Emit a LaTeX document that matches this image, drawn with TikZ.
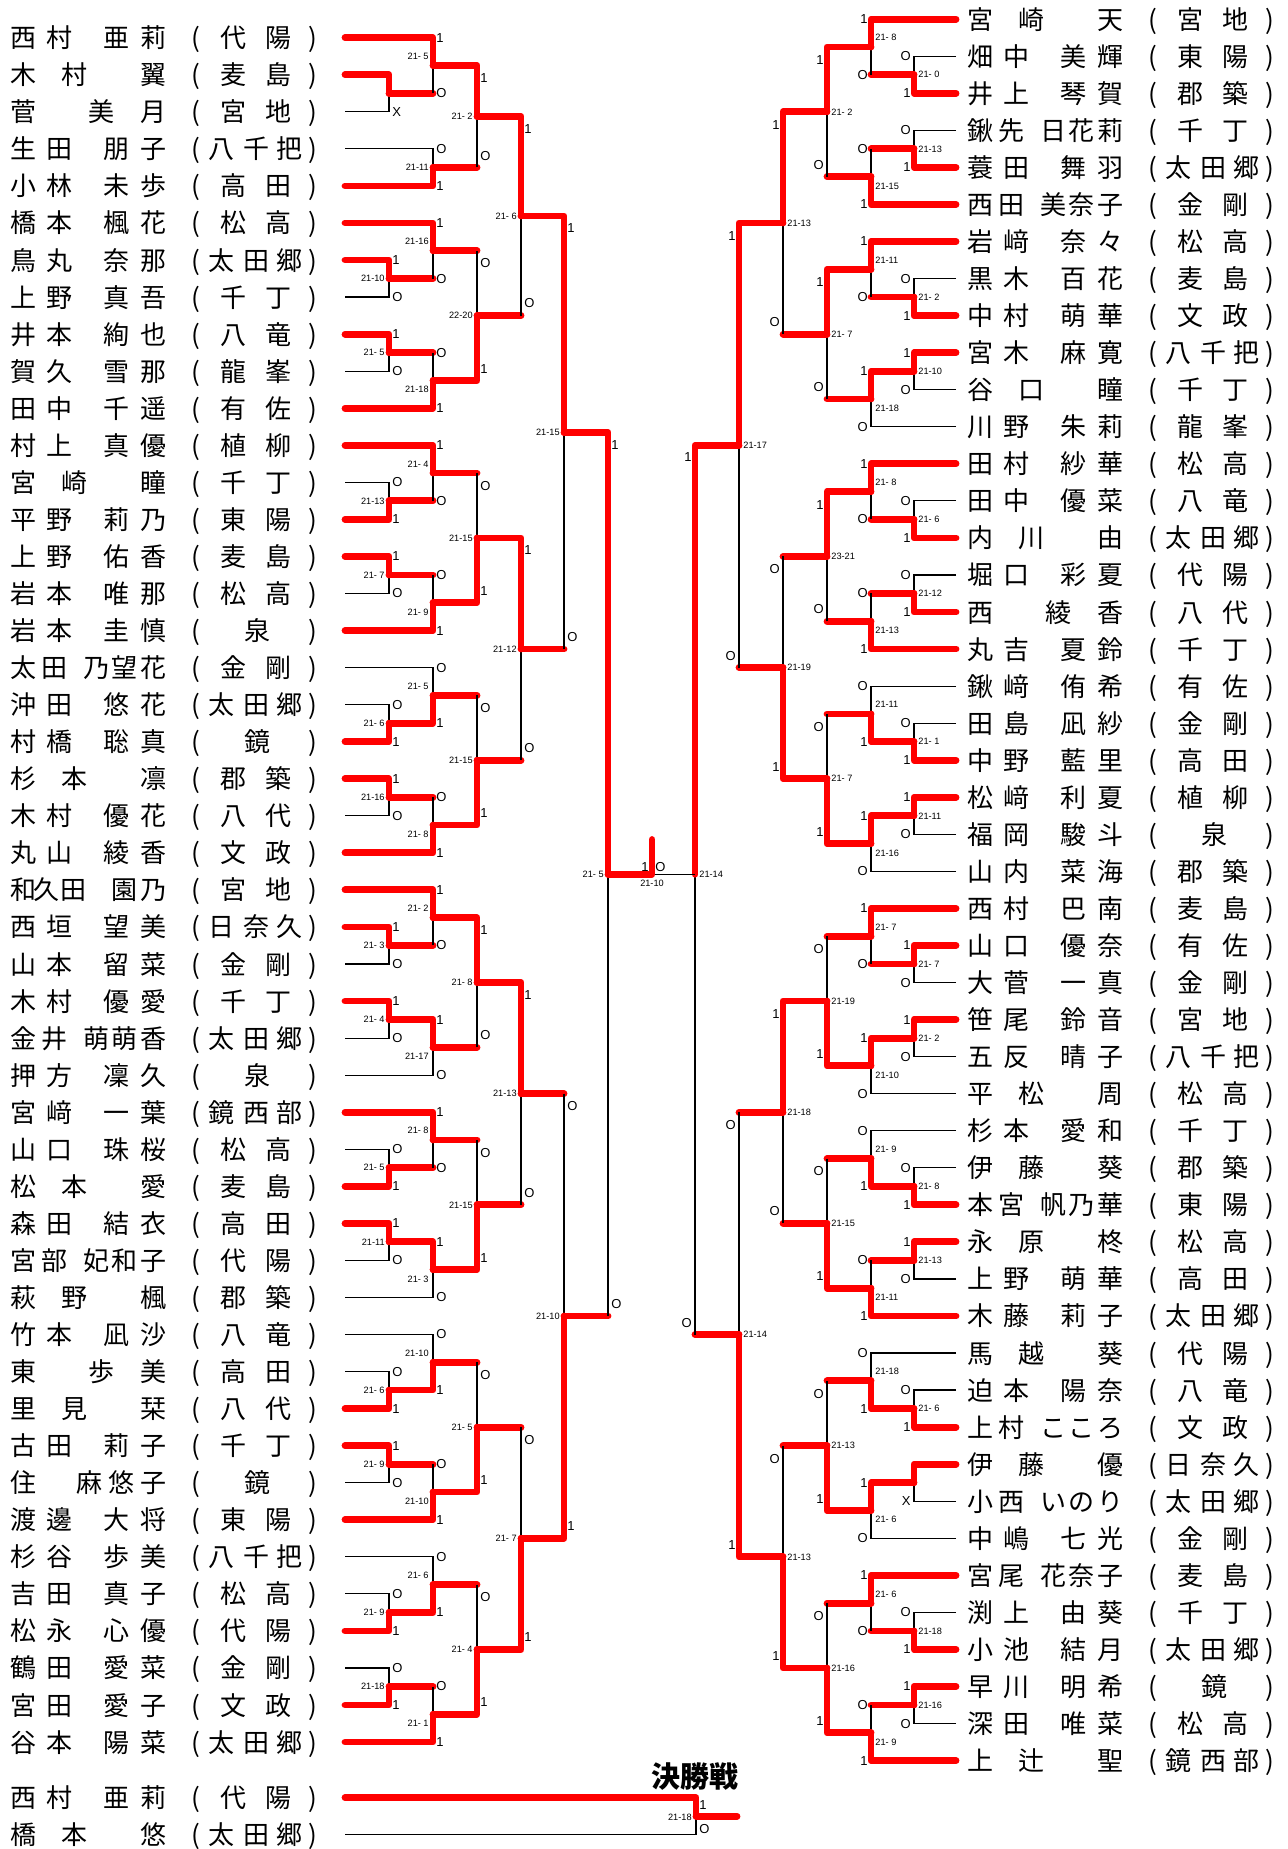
\documentclass[tikz,border=0pt]{standalone}
\usepackage{fontspec}
\setmainfont{Noto Sans CJK JP}
\newfontfamily\lat{Liberation Sans}
\newdimen\pxu \pxu=0.5pt
\newcommand{\xo}{0}
\newcommand{\chpos}[2]{\rlap{\hspace*{\xo\pxu}\hspace*{#1\pxu}#2}}
% name layouts: family + given
\newcommand{\nbb}[4]{\chpos{0}{#1}\chpos{36}{#2}\chpos{93}{#3}\chpos{130}{#4}}
\newcommand{\nba}[3]{\chpos{0}{#1}\chpos{51}{#2}\chpos{130}{#3}}
\newcommand{\nbc}[5]{\chpos{0}{#1}\chpos{31}{#2}\chpos{73}{#3}\chpos{101}{#4}\chpos{130}{#5}}
\newcommand{\nab}[3]{\chpos{0}{#1}\chpos{78}{#2}\chpos{130}{#3}}
\newcommand{\nac}[4]{\chpos{0}{#1}\chpos{66}{#2}\chpos{98}{#3}\chpos{130}{#4}}
\newcommand{\ncb}[5]{\chpos{0}{#1}\chpos{23}{#2}\chpos{50}{#3}\chpos{101}{#4}\chpos{130}{#5}}
% school in brackets
\newcommand{\sca}[1]{\chpos{181}{(}\chpos{234}{#1}\chpos{298}{)}}
\newcommand{\scb}[2]{\chpos{181}{(}\chpos{210}{#1}\chpos{255}{#2}\chpos{298}{)}}
\newcommand{\scc}[3]{\chpos{181}{(}\chpos{198}{#1}\chpos{233}{#2}\chpos{266}{#3}\chpos{298}{)}}
\usetikzlibrary{positioning}
\tikzset{
  pname/.style    = {inner sep=0pt, text height=11.5pt, text depth=1.5pt,
                     font=\fontsize{13pt}{15pt}\selectfont,
                     execute at end node={\hspace*{334\pxu}}},
  lname/.style    = {pname, anchor=east},
  rname/.style    = {pname, anchor=west, execute at begin node={\def\xo{11}}},
  winline/.style  = {draw=red, line width=3.4pt, line cap=round, line join=round},
  loseline/.style = {draw=black, line width=0.6pt},
  score/.style    = {inner sep=0pt, font=\lat\fontsize{4.6pt}{5pt}\selectfont},
  res/.style      = {inner sep=0pt, font=\lat\fontsize{6.5pt}{7pt}\selectfont}
}
% match: name, column, row, score, score row, top mark, its row, bottom mark, its row
\newcommand{\mL}[9]{%
  \coordinate (#1) at (#2,#3);
  \node[score, anchor=east] (#1s) at (#2-4,#5) {#4};
  \node[res, anchor=west] (#1t) at (#2+3,#7) {#6};
  \node[res, anchor=west] (#1b) at (#2+3,#9) {#8};}
\newcommand{\mR}[9]{%
  \coordinate (#1) at (#2,#3);
  \node[score, anchor=west] (#1s) at (#2+4,#5) {#4};
  \node[res, anchor=east] (#1t) at (#2-3,#7) {#6};
  \node[res, anchor=east] (#1b) at (#2-3,#9) {#8};}
\newcommand{\won}[2]{\draw[winline] (#1) -| (#2);}
\newcommand{\lost}[2]{\draw[loseline] (#1) -| (#2);}
\newcommand{\lostr}[2]{\draw[winline] (#1) -- (#1 -| #2); \draw[loseline] (#1 -| #2) -- (#2);}

\begin{document}
\begin{tikzpicture}[x=0.5pt, y=-18.525pt]
\path[use as bounding box, fill=white] (0,-1.0175) rectangle (1287,48.886);

% ---------------- left names ----------------
\node[lname] (lp0) at (345,0) {\nbb 西村亜莉\scb 代陽};
\node[lname] (lp1) at (345,1) {\nba 木村翼\scb 麦島};
\node[lname] (lp2) at (345,2) {\nab 菅美月\scb 宮地};
\node[lname] (lp3) at (345,3) {\nbb 生田朋子\scc 八千把};
\node[lname] (lp4) at (345,4) {\nbb 小林未歩\scb 高田};
\node[lname] (lp5) at (345,5) {\nbb 橋本楓花\scb 松高};
\node[lname] (lp6) at (345,6) {\nbb 鳥丸奈那\scc 太田郷};
\node[lname] (lp7) at (345,7) {\nbb 上野真吾\scb 千丁};
\node[lname] (lp8) at (345,8) {\nbb 井本絢也\scb 八竜};
\node[lname] (lp9) at (345,9) {\nbb 賀久雪那\scb 龍峯};
\node[lname] (lp10) at (345,10) {\nbb 田中千遥\scb 有佐};
\node[lname] (lp11) at (345,11) {\nbb 村上真優\scb 植柳};
\node[lname] (lp12) at (345,12) {\nba 宮崎瞳\scb 千丁};
\node[lname] (lp13) at (345,13) {\nbb 平野莉乃\scb 東陽};
\node[lname] (lp14) at (345,14) {\nbb 上野佑香\scb 麦島};
\node[lname] (lp15) at (345,15) {\nbb 岩本唯那\scb 松高};
\node[lname] (lp16) at (345,16) {\nbb 岩本圭慎\sca 泉};
\node[lname] (lp17) at (345,17) {\nbc 太田乃望花\scb 金剛};
\node[lname] (lp18) at (345,18) {\nbb 沖田悠花\scc 太田郷};
\node[lname] (lp19) at (345,19) {\nbb 村橋聡真\sca 鏡};
\node[lname] (lp20) at (345,20) {\nba 杉本凛\scb 郡築};
\node[lname] (lp21) at (345,21) {\nbb 木村優花\scb 八代};
\node[lname] (lp22) at (345,22) {\nbb 丸山綾香\scb 文政};
\node[lname] (lp23) at (345,23) {\ncb 和久田園乃\scb 宮地};
\node[lname] (lp24) at (345,24) {\nbb 西垣望美\scc 日奈久};
\node[lname] (lp25) at (345,25) {\nbb 山本留菜\scb 金剛};
\node[lname] (lp26) at (345,26) {\nbb 木村優愛\scb 千丁};
\node[lname] (lp27) at (345,27) {\nbc 金井萌萌香\scc 太田郷};
\node[lname] (lp28) at (345,28) {\nbb 押方凜久\sca 泉};
\node[lname] (lp29) at (345,29) {\nbb 宮﨑一葉\scc 鏡西部};
\node[lname] (lp30) at (345,30) {\nbb 山口珠桜\scb 松高};
\node[lname] (lp31) at (345,31) {\nba 松本愛\scb 麦島};
\node[lname] (lp32) at (345,32) {\nbb 森田結衣\scb 高田};
\node[lname] (lp33) at (345,33) {\nbc 宮部妃和子\scb 代陽};
\node[lname] (lp34) at (345,34) {\nba 萩野楓\scb 郡築};
\node[lname] (lp35) at (345,35) {\nbb 竹本凪沙\scb 八竜};
\node[lname] (lp36) at (345,36) {\nab 東歩美\scb 高田};
\node[lname] (lp37) at (345,37) {\nba 里見栞\scb 八代};
\node[lname] (lp38) at (345,38) {\nbb 古田莉子\scb 千丁};
\node[lname] (lp39) at (345,39) {\nac 住麻悠子\sca 鏡};
\node[lname] (lp40) at (345,40) {\nbb 渡邊大将\scb 東陽};
\node[lname] (lp41) at (345,41) {\nbb 杉谷歩美\scc 八千把};
\node[lname] (lp42) at (345,42) {\nbb 吉田真子\scb 松高};
\node[lname] (lp43) at (345,43) {\nbb 松永心優\scb 代陽};
\node[lname] (lp44) at (345,44) {\nbb 鶴田愛菜\scb 金剛};
\node[lname] (lp45) at (345,45) {\nbb 宮田愛子\scb 文政};
\node[lname] (lp46) at (345,46) {\nbb 谷本陽菜\scc 太田郷};

% ---------------- left bracket ----------------
\mL{L1a}{389}{1.5}{}{1.5}{}{1}{X}{2}              \lost{lp2.east}{L1a}  \won{lp1.east}{L1a}
\mL{L1b}{389}{6.5}{21-10}{6.5}{1}{6}{O}{7}        \lost{lp7.east}{L1b}  \won{lp6.east}{L1b}
\mL{L1c}{389}{8.5}{21- 5}{8.5}{1}{8}{O}{9}        \lost{lp9.east}{L1c}  \won{lp8.east}{L1c}
\mL{L1d}{389}{12.5}{21-13}{12.5}{O}{12}{1}{13}    \lost{lp12.east}{L1d} \won{lp13.east}{L1d}
\mL{L1e}{389}{14.5}{21- 7}{14.5}{1}{14}{O}{15}    \lost{lp15.east}{L1e} \won{lp14.east}{L1e}
\mL{L1f}{389}{18.5}{21- 6}{18.5}{O}{18}{1}{19}    \lost{lp18.east}{L1f} \won{lp19.east}{L1f}
\mL{L1g}{389}{20.5}{21-16}{20.5}{1}{20}{O}{21}    \lost{lp21.east}{L1g} \won{lp20.east}{L1g}
\mL{L1h}{389}{24.5}{21- 3}{24.5}{1}{24}{O}{25}    \lost{lp25.east}{L1h} \won{lp24.east}{L1h}
\mL{L1i}{389}{26.5}{21- 4}{26.5}{1}{26}{O}{27}    \lost{lp27.east}{L1i} \won{lp26.east}{L1i}
\mL{L1j}{389}{30.5}{21- 5}{30.5}{O}{30}{1}{31}    \lost{lp30.east}{L1j} \won{lp31.east}{L1j}
\mL{L1k}{389}{32.5}{21-11}{32.5}{1}{32}{O}{33}    \lost{lp33.east}{L1k} \won{lp32.east}{L1k}
\mL{L1l}{389}{36.5}{21- 6}{36.5}{O}{36}{1}{37}    \lost{lp36.east}{L1l} \won{lp37.east}{L1l}
\mL{L1m}{389}{38.5}{21- 9}{38.5}{1}{38}{O}{39}    \lost{lp39.east}{L1m} \won{lp38.east}{L1m}
\mL{L1n}{389}{42.5}{21- 9}{42.5}{O}{42}{1}{43}    \lost{lp42.east}{L1n} \won{lp43.east}{L1n}
\mL{L1o}{389}{44.5}{21-18}{44.5}{O}{44}{1}{45}    \lost{lp44.east}{L1o} \won{lp45.east}{L1o}

\mL{L2a}{433}{0.75}{21- 5}{0.5}{1}{0}{O}{1.5}     \lostr{L1a}{L2a}      \won{lp0.east}{L2a}
\mL{L2b}{433}{3.5}{21-11}{3.5}{O}{3}{1}{4}        \lost{lp3.east}{L2b}  \won{lp4.east}{L2b}
\mL{L2c}{433}{5.75}{21-16}{5.5}{1}{5}{O}{6.5}     \lostr{L1b}{L2c}      \won{lp5.east}{L2c}
\mL{L2d}{433}{9.25}{21-18}{9.5}{O}{8.5}{1}{10}    \lostr{L1c}{L2d}      \won{lp10.east}{L2d}
\mL{L2e}{433}{11.75}{21- 4}{11.5}{1}{11}{O}{12.5} \lostr{L1d}{L2e}      \won{lp11.east}{L2e}
\mL{L2f}{433}{15.25}{21- 9}{15.5}{O}{14.5}{1}{16} \lostr{L1e}{L2f}      \won{lp16.east}{L2f}
\mL{L2g}{433}{17.75}{21- 5}{17.5}{O}{17}{1}{18.5} \lost{lp17.east}{L2g} \won{L1f}{L2g}
\mL{L2h}{433}{21.25}{21- 8}{21.5}{O}{20.5}{1}{22} \lostr{L1g}{L2h}      \won{lp22.east}{L2h}
\mL{L2i}{433}{23.75}{21- 2}{23.5}{1}{23}{O}{24.5} \lostr{L1h}{L2i}      \won{lp23.east}{L2i}
\mL{L2j}{433}{27.25}{21-17}{27.5}{1}{26.5}{O}{28} \lost{lp28.east}{L2j} \won{L1i}{L2j}
\mL{L2k}{433}{29.75}{21- 8}{29.5}{1}{29}{O}{30.5} \lostr{L1j}{L2k}      \won{lp29.east}{L2k}
\mL{L2l}{433}{33.25}{21- 3}{33.5}{1}{32.5}{O}{34} \lost{lp34.east}{L2l} \won{L1k}{L2l}
\mL{L2m}{433}{35.75}{21-10}{35.5}{O}{35}{1}{36.5} \lost{lp35.east}{L2m} \won{L1l}{L2m}
\mL{L2n}{433}{39.25}{21-10}{39.5}{O}{38.5}{1}{40} \lostr{L1m}{L2n}      \won{lp40.east}{L2n}
\mL{L2o}{433}{41.75}{21- 6}{41.5}{O}{41}{1}{42.5} \lost{lp41.east}{L2o} \won{L1n}{L2o}
\mL{L2p}{433}{45.25}{21- 1}{45.5}{O}{44.5}{1}{46} \lostr{L1o}{L2p}      \won{lp46.east}{L2p}

\mL{L3a}{477}{2.125}{21- 2}{2.125}{1}{1.09}{O}{3.18}  \lostr{L2b}{L3a} \won{L2a}{L3a}
\mL{L3b}{477}{7.5}{22-20}{7.5}{O}{6.09}{1}{8.93}      \lostr{L2c}{L3b} \won{L2d}{L3b}
\mL{L3c}{477}{13.5}{21-15}{13.5}{O}{12.09}{1}{14.93}  \lostr{L2e}{L3c} \won{L2f}{L3c}
\mL{L3d}{477}{19.5}{21-15}{19.5}{O}{18.09}{1}{20.93}  \lostr{L2g}{L3d} \won{L2h}{L3d}
\mL{L3e}{477}{25.5}{21- 8}{25.5}{1}{24.09}{O}{26.93}  \lostr{L2j}{L3e} \won{L2i}{L3e}
\mL{L3f}{477}{31.5}{21-15}{31.5}{O}{30.09}{1}{32.93}  \lostr{L2k}{L3f} \won{L2l}{L3f}
\mL{L3g}{477}{37.5}{21- 5}{37.5}{O}{36.09}{1}{38.93}  \lostr{L2m}{L3g} \won{L2n}{L3g}
\mL{L3h}{477}{43.5}{21- 4}{43.5}{O}{42.09}{1}{44.93}  \lostr{L2o}{L3h} \won{L2p}{L3h}

\mL{L4a}{521}{4.8125}{21- 6}{4.8125}{1}{2.46}{O}{7.17} \lostr{L3b}{L4a} \won{L3a}{L4a}
\mL{L4b}{521}{16.5}{21-12}{16.5}{1}{13.84}{O}{19.17}   \lostr{L3d}{L4b} \won{L3c}{L4b}
\mL{L4c}{521}{28.5}{21-13}{28.5}{1}{25.84}{O}{31.17}   \lostr{L3f}{L4c} \won{L3e}{L4c}
\mL{L4d}{521}{40.5}{21- 7}{40.5}{O}{37.84}{1}{43.17}   \lostr{L3g}{L4d} \won{L3h}{L4d}

\mL{L5a}{564}{10.656}{21-15}{10.656}{1}{5.15}{O}{16.17} \lostr{L4b}{L5a} \won{L4a}{L5a}
\mL{L5b}{564}{34.5}{21-10}{34.5}{O}{28.84}{1}{40.17}    \lostr{L4c}{L5b} \won{L4d}{L5b}

\mL{L6}{608}{22.578}{21- 5}{22.578}{1}{11.0}{O}{34.17}  \lostr{L5b}{L6} \won{L5a}{L6}

% ---------------- right half ----------------
\begin{scope}[shift={(0,-0.5)}]
\node[rname] (rp0) at (956,0) {\nba 宮崎天\scb 宮地};
\node[rname] (rp1) at (956,1) {\nbb 畑中美輝\scb 東陽};
\node[rname] (rp2) at (956,2) {\nbb 井上琴賀\scb 郡築};
\node[rname] (rp3) at (956,3) {\nbc 鍬先日花莉\scb 千丁};
\node[rname] (rp4) at (956,4) {\nbb 蓑田舞羽\scc 太田郷};
\node[rname] (rp5) at (956,5) {\nbc 西田美奈子\scb 金剛};
\node[rname] (rp6) at (956,6) {\nbb 岩﨑奈々\scb 松高};
\node[rname] (rp7) at (956,7) {\nbb 黒木百花\scb 麦島};
\node[rname] (rp8) at (956,8) {\nbb 中村萌華\scb 文政};
\node[rname] (rp9) at (956,9) {\nbb 宮木麻寛\scc 八千把};
\node[rname] (rp10) at (956,10) {\nba 谷口瞳\scb 千丁};
\node[rname] (rp11) at (956,11) {\nbb 川野朱莉\scb 龍峯};
\node[rname] (rp12) at (956,12) {\nbb 田村紗華\scb 松高};
\node[rname] (rp13) at (956,13) {\nbb 田中優菜\scb 八竜};
\node[rname] (rp14) at (956,14) {\nba 内川由\scc 太田郷};
\node[rname] (rp15) at (956,15) {\nbb 堀口彩夏\scb 代陽};
\node[rname] (rp16) at (956,16) {\nab 西綾香\scb 八代};
\node[rname] (rp17) at (956,17) {\nbb 丸吉夏鈴\scb 千丁};
\node[rname] (rp18) at (956,18) {\nbb 鍬﨑侑希\scb 有佐};
\node[rname] (rp19) at (956,19) {\nbb 田島凪紗\scb 金剛};
\node[rname] (rp20) at (956,20) {\nbb 中野藍里\scb 高田};
\node[rname] (rp21) at (956,21) {\nbb 松﨑利夏\scb 植柳};
\node[rname] (rp22) at (956,22) {\nbb 福岡駿斗\sca 泉};
\node[rname] (rp23) at (956,23) {\nbb 山内菜海\scb 郡築};
\node[rname] (rp24) at (956,24) {\nbb 西村巴南\scb 麦島};
\node[rname] (rp25) at (956,25) {\nbb 山口優奈\scb 有佐};
\node[rname] (rp26) at (956,26) {\nbb 大菅一真\scb 金剛};
\node[rname] (rp27) at (956,27) {\nbb 笹尾鈴音\scb 宮地};
\node[rname] (rp28) at (956,28) {\nbb 五反晴子\scc 八千把};
\node[rname] (rp29) at (956,29) {\nba 平松周\scb 松高};
\node[rname] (rp30) at (956,30) {\nbb 杉本愛和\scb 千丁};
\node[rname] (rp31) at (956,31) {\nba 伊藤葵\scb 郡築};
\node[rname] (rp32) at (956,32) {\nbc 本宮帆乃華\scb 東陽};
\node[rname] (rp33) at (956,33) {\nba 永原柊\scb 松高};
\node[rname] (rp34) at (956,34) {\nbb 上野萌華\scb 高田};
\node[rname] (rp35) at (956,35) {\nbb 木藤莉子\scc 太田郷};
\node[rname] (rp36) at (956,36) {\nba 馬越葵\scb 代陽};
\node[rname] (rp37) at (956,37) {\nbb 迫本陽奈\scb 八竜};
\node[rname] (rp38) at (956,38) {\nbc 上村こころ\scb 文政};
\node[rname] (rp39) at (956,39) {\nba 伊藤優\scc 日奈久};
\node[rname] (rp40) at (956,40) {\nbc 小西いのり\scc 太田郷};
\node[rname] (rp41) at (956,41) {\nbb 中嶋七光\scb 金剛};
\node[rname] (rp42) at (956,42) {\nbc 宮尾花奈子\scb 麦島};
\node[rname] (rp43) at (956,43) {\nbb 渕上由葵\scb 千丁};
\node[rname] (rp44) at (956,44) {\nbb 小池結月\scc 太田郷};
\node[rname] (rp45) at (956,45) {\nbb 早川明希\sca 鏡};
\node[rname] (rp46) at (956,46) {\nbb 深田唯菜\scb 松高};
\node[rname] (rp47) at (956,47) {\nba 上辻聖\scc 鏡西部};

\mR{R1a}{914}{1.5}{21- 0}{1.5}{O}{1}{1}{2}        \lost{rp1.west}{R1a}  \won{rp2.west}{R1a}
\mR{R1b}{914}{3.5}{21-13}{3.5}{O}{3}{1}{4}        \lost{rp3.west}{R1b}  \won{rp4.west}{R1b}
\mR{R1c}{914}{7.5}{21- 2}{7.5}{O}{7}{1}{8}        \lost{rp7.west}{R1c}  \won{rp8.west}{R1c}
\mR{R1d}{914}{9.5}{21-10}{9.5}{1}{9}{O}{10}       \lost{rp10.west}{R1d} \won{rp9.west}{R1d}
\mR{R1e}{914}{13.5}{21- 6}{13.5}{O}{13}{1}{14}    \lost{rp13.west}{R1e} \won{rp14.west}{R1e}
\mR{R1f}{914}{15.5}{21-12}{15.5}{O}{15}{1}{16}    \lost{rp15.west}{R1f} \won{rp16.west}{R1f}
\mR{R1g}{914}{19.5}{21- 1}{19.5}{O}{19}{1}{20}    \lost{rp19.west}{R1g} \won{rp20.west}{R1g}
\mR{R1h}{914}{21.5}{21-11}{21.5}{1}{21}{O}{22}    \lost{rp22.west}{R1h} \won{rp21.west}{R1h}
\mR{R1i}{914}{25.5}{21- 7}{25.5}{1}{25}{O}{26}    \lost{rp26.west}{R1i} \won{rp25.west}{R1i}
\mR{R1j}{914}{27.5}{21- 2}{27.5}{1}{27}{O}{28}    \lost{rp28.west}{R1j} \won{rp27.west}{R1j}
\mR{R1k}{914}{31.5}{21- 8}{31.5}{O}{31}{1}{32}    \lost{rp31.west}{R1k} \won{rp32.west}{R1k}
\mR{R1l}{914}{33.5}{21-13}{33.5}{1}{33}{O}{34}    \lost{rp34.west}{R1l} \won{rp33.west}{R1l}
\mR{R1m}{914}{37.5}{21- 6}{37.5}{O}{37}{1}{38}    \lost{rp37.west}{R1m} \won{rp38.west}{R1m}
\mR{R1n}{914}{39.5}{}{39.5}{}{39}{X}{40}          \lost{rp40.west}{R1n} \won{rp39.west}{R1n}
\mR{R1o}{914}{43.5}{21-18}{43.5}{O}{43}{1}{44}    \lost{rp43.west}{R1o} \won{rp44.west}{R1o}
\mR{R1p}{914}{45.5}{21-16}{45.5}{1}{45}{O}{46}    \lost{rp46.west}{R1p} \won{rp45.west}{R1p}

\mR{R2a}{871}{0.75}{21- 8}{0.5}{1}{0}{O}{1.5}     \lostr{R1a}{R2a}      \won{rp0.west}{R2a}
\mR{R2b}{871}{4.25}{21-15}{4.5}{O}{3.5}{1}{5}     \lostr{R1b}{R2b}      \won{rp5.west}{R2b}
\mR{R2c}{871}{6.75}{21-11}{6.5}{1}{6}{O}{7.5}     \lostr{R1c}{R2c}      \won{rp6.west}{R2c}
\mR{R2d}{871}{10.25}{21-18}{10.5}{1}{9.5}{O}{11}  \lost{rp11.west}{R2d} \won{R1d}{R2d}
\mR{R2e}{871}{12.75}{21- 8}{12.5}{1}{12}{O}{13.5} \lostr{R1e}{R2e}      \won{rp12.west}{R2e}
\mR{R2f}{871}{16.25}{21-13}{16.5}{O}{15.5}{1}{17} \lostr{R1f}{R2f}      \won{rp17.west}{R2f}
\mR{R2g}{871}{18.75}{21-11}{18.5}{O}{18}{1}{19.5} \lost{rp18.west}{R2g} \won{R1g}{R2g}
\mR{R2h}{871}{22.25}{21-16}{22.5}{1}{21.5}{O}{23} \lost{rp23.west}{R2h} \won{R1h}{R2h}
\mR{R2i}{871}{24.75}{21- 7}{24.5}{1}{24}{O}{25.5} \lostr{R1i}{R2i}      \won{rp24.west}{R2i}
\mR{R2j}{871}{28.25}{21-10}{28.5}{1}{27.5}{O}{29} \lost{rp29.west}{R2j} \won{R1j}{R2j}
\mR{R2k}{871}{30.75}{21- 9}{30.5}{O}{30}{1}{31.5} \lost{rp30.west}{R2k} \won{R1k}{R2k}
\mR{R2l}{871}{34.25}{21-11}{34.5}{O}{33.5}{1}{35} \lostr{R1l}{R2l}      \won{rp35.west}{R2l}
\mR{R2m}{871}{36.75}{21-18}{36.5}{O}{36}{1}{37.5} \lost{rp36.west}{R2m} \won{R1m}{R2m}
\mR{R2n}{871}{40.25}{21- 6}{40.5}{1}{39.5}{O}{41} \lost{rp41.west}{R2n} \won{R1n}{R2n}
\mR{R2o}{871}{42.75}{21- 6}{42.5}{1}{42}{O}{43.5} \lostr{R1o}{R2o}      \won{rp42.west}{R2o}
\mR{R2p}{871}{46.25}{21- 9}{46.5}{O}{45.5}{1}{47} \lostr{R1p}{R2p}      \won{rp47.west}{R2p}

\mR{R3a}{827}{2.5}{21- 2}{2.5}{1}{1.1}{O}{3.93}      \lostr{R2b}{R3a} \won{R2a}{R3a}
\mR{R3b}{827}{8.5}{21- 7}{8.5}{1}{7.1}{O}{9.93}      \lostr{R2d}{R3b} \won{R2c}{R3b}
\mR{R3c}{827}{14.5}{23-21}{14.5}{1}{13.1}{O}{15.93}  \lostr{R2f}{R3c} \won{R2e}{R3c}
\mR{R3d}{827}{20.5}{21- 7}{20.5}{O}{19.1}{1}{21.93}  \lostr{R2g}{R3d} \won{R2h}{R3d}
\mR{R3e}{827}{26.5}{21-19}{26.5}{O}{25.1}{1}{27.93}  \lostr{R2i}{R3e} \won{R2j}{R3e}
\mR{R3f}{827}{32.5}{21-15}{32.5}{O}{31.1}{1}{33.93}  \lostr{R2k}{R3f} \won{R2l}{R3f}
\mR{R3g}{827}{38.5}{21-13}{38.5}{O}{37.1}{1}{39.93}  \lostr{R2m}{R3g} \won{R2n}{R3g}
\mR{R3h}{827}{44.5}{21-16}{44.5}{O}{43.1}{1}{45.93}  \lostr{R2o}{R3h} \won{R2p}{R3h}

\mR{R4a}{783}{5.5}{21-13}{5.5}{1}{2.85}{O}{8.18}     \lostr{R3b}{R4a} \won{R3a}{R4a}
\mR{R4b}{783}{17.5}{21-19}{17.5}{O}{14.85}{1}{20.18} \lostr{R3c}{R4b} \won{R3d}{R4b}
\mR{R4c}{783}{29.5}{21-18}{29.5}{1}{26.85}{O}{32.18} \lostr{R3f}{R4c} \won{R3e}{R4c}
\mR{R4d}{783}{41.5}{21-13}{41.5}{O}{38.85}{1}{44.18} \lostr{R3g}{R4d} \won{R3h}{R4d}

\mR{R5a}{739}{11.5}{21-17}{11.5}{1}{5.85}{O}{17.18}  \lostr{R4b}{R5a} \won{R4a}{R5a}
\mR{R5b}{739}{35.5}{21-14}{35.5}{O}{29.85}{1}{41.18} \lostr{R4c}{R5b} \won{R4d}{R5b}

\mR{R6}{695}{23.078}{21-14}{23.078}{1}{11.83}{O}{35.18} \lostr{R5b}{R6} \won{R5a}{R6}
\end{scope}

% ---------------- semi final ----------------
\coordinate (CT) at (652,21.64);
\draw[loseline] (R6) -- (R6 -| CT);
\won{L6}{CT}
\node[res, anchor=east] (CTt) at (649,22.37) {1};
\node[res, anchor=west] (CTb) at (655,22.37) {O};
\node[score] (CTs) at (652,22.82) {21-10};

% ---------------- final ----------------
\node[font=\bfseries\fontsize{14.5pt}{16pt}\selectfont, inner sep=0pt] (ttl) at (695,46.94) {決勝戦};
\node[lname] (fp1) at (345,47.5) {\nbb 西村亜莉\scb 代陽};
\node[lname] (fp2) at (345,48.5) {\nba 橋本悠\scc 太田郷};
\mL{F}{696}{48}{21-18}{48.02}{1}{47.7}{O}{48.35}
\lost{fp2.east}{F} \won{fp1.east}{F}
\coordinate (Fw) at (737,48);
\draw[winline] (F) -- (Fw);

\end{tikzpicture}
\end{document}
